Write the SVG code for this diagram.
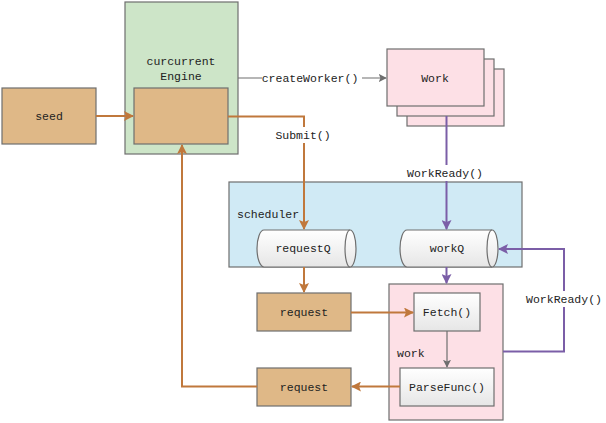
<svg xmlns="http://www.w3.org/2000/svg" width="606" height="423" viewBox="0 0 606 423">
<style>
text{font-family:"Liberation Mono","DejaVu Sans Mono",monospace;font-size:11.5px;fill:#222;}
.box{stroke:#6e6e6e;stroke-width:1.2;}
.tan{fill:#dfb887;}
.o{stroke:#c0783c;stroke-width:2;fill:none;}
.p{stroke:#7b5ea7;stroke-width:2;fill:none;}
.g{stroke:#6e6e6e;stroke-width:1.2;fill:none;}
</style>
<defs>
<linearGradient id="gw" x1="0" y1="0" x2="0" y2="1"><stop offset="0" stop-color="#ffffff"/><stop offset="1" stop-color="#e6e6e6"/></linearGradient>
<marker id="ao" viewBox="0 0 10 10" refX="9" refY="5" markerWidth="10" markerHeight="10" orient="auto" markerUnits="userSpaceOnUse"><path d="M0,0L10,5L0,10L2,5Z" fill="#c0783c"/></marker>
<marker id="ap" viewBox="0 0 10 10" refX="9" refY="5" markerWidth="10" markerHeight="10" orient="auto" markerUnits="userSpaceOnUse"><path d="M0,0L10,5L0,10L2,5Z" fill="#7b5ea7"/></marker>
<marker id="ag" viewBox="0 0 10 10" refX="9" refY="5" markerWidth="8" markerHeight="8" orient="auto" markerUnits="userSpaceOnUse"><path d="M0,0L10,5L0,10L2,5Z" fill="#6e6e6e"/></marker>
</defs>

<g id="engine">
<rect class="box" x="125" y="2" width="113" height="152" fill="#cde5c8"/>
<text x="181" y="65" text-anchor="middle">curcurrent</text>
<text x="181" y="80" text-anchor="middle">Engine</text>
<rect class="box tan" x="134" y="88" width="94" height="56"/>
</g>
<g id="seed">
<rect class="box tan" x="2" y="88" width="94" height="56"/>
<text x="49" y="120" text-anchor="middle">seed</text>
</g>
<g id="work-stack">
<rect class="box" x="407" y="69" width="97" height="57" fill="#fde0e6"/>
<rect class="box" x="397" y="59" width="97" height="57" fill="#fde0e6"/>
<rect class="box" x="387" y="49" width="97" height="57" fill="#fde0e6"/>
<text x="435" y="82" text-anchor="middle">Work</text>
</g>
<g id="scheduler">
<rect class="box" x="229" y="182" width="293" height="85" fill="#d0eaf5"/>
<text x="237" y="218">scheduler</text>
</g>
<g id="requestQ">
<path class="box" d="M264,230H350A6,18.5 0 0 1 350,267H264A7,18.5 0 0 1 264,230Z" fill="url(#gw)"/>
<path class="box" d="M350,230A5,18.5 0 0 0 350,267" fill="none"/>
<text x="303" y="252" text-anchor="middle">requestQ</text>
</g>
<g id="workQ">
<path class="box" d="M407,230H492A6,18.5 0 0 1 492,267H407A7,18.5 0 0 1 407,230Z" fill="url(#gw)"/>
<path class="box" d="M492,230A5,18.5 0 0 0 492,267" fill="none"/>
<text x="447" y="252" text-anchor="middle">workQ</text>
</g>
<g id="request1">
<rect class="box tan" x="257" y="293" width="94" height="38"/>
<text x="304" y="316" text-anchor="middle">request</text>
</g>
<g id="request2">
<rect class="box tan" x="257" y="368" width="94" height="38"/>
<text x="304" y="391" text-anchor="middle">request</text>
</g>
<g id="work">
<rect class="box" x="389" y="284" width="114" height="136" fill="#fde0e6"/>
<text x="397" y="357">work</text>
</g>
<g id="fetch">
<rect class="box" x="414" y="293" width="66" height="38" fill="url(#gw)"/>
<text x="447" y="316" text-anchor="middle">Fetch()</text>
</g>
<g id="parse">
<rect class="box" x="400" y="368" width="94" height="38" fill="url(#gw)"/>
<text x="447" y="391" text-anchor="middle">ParseFunc()</text>
</g>

<g id="connectors">
<path class="o" d="M96,116H133" marker-end="url(#ao)"/>
<path class="g" d="M238,78H386" marker-end="url(#ag)"/>
<rect x="262" y="70" width="100" height="16" fill="#fff"/>
<text x="310" y="82" text-anchor="middle">createWorker()</text>
<path class="o" d="M228,116.5H304V229" marker-end="url(#ao)"/>
<rect x="272" y="127" width="62" height="16" fill="#fff"/>
<text x="303" y="139" text-anchor="middle">Submit()</text>
<path class="p" d="M446.5,116V229" marker-end="url(#ap)"/>
<rect x="404" y="165" width="84" height="16" fill="#fff"/>
<text x="445" y="177" text-anchor="middle">WorkReady()</text>
<path class="o" d="M304,267V292" marker-end="url(#ao)"/>
<path class="p" d="M446.5,267V283" marker-end="url(#ap)"/>
<path class="o" d="M351,312.5H413" marker-end="url(#ao)"/>
<path class="g" d="M447,331V367" marker-end="url(#ag)"/>
<path class="o" d="M400,386.5H352" marker-end="url(#ao)"/>
<path class="o" d="M257,386.5H182V145" marker-end="url(#ao)"/>
<path class="p" d="M503,351.5H564V249H499" marker-end="url(#ap)"/>
<rect x="524" y="291" width="80" height="16" fill="#fff"/>
<text x="564" y="303" text-anchor="middle">WorkReady()</text>
</g>
</svg>
